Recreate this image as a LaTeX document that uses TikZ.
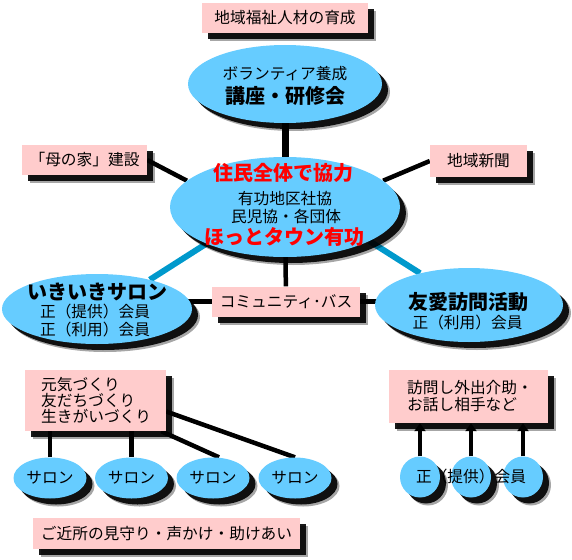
\documentclass[tikz,border=0pt]{standalone}
\usepackage{fontspec}
\setmainfont{Noto Sans CJK JP}
\usetikzlibrary{shapes.geometric,shadows,arrows.meta}
\definecolor{boxpink}{HTML}{FFCCCC}
\definecolor{ellblue}{HTML}{66CCFF}
\definecolor{lineblue}{HTML}{0099CC}
\definecolor{txtred}{HTML}{FF0000}
\pgfdeclarelayer{bg}
\pgfdeclarelayer{fg}
\pgfsetlayers{bg,main,fg}
\tikzset{
  shad/.style={drop shadow={shadow xshift=8pt,shadow yshift=-8pt,opacity=.35,fill=black},
               drop shadow={shadow xshift=6pt,shadow yshift=-6pt,opacity=.9,fill=black}},
  pbox/.style={shad,rectangle,fill=boxpink,inner sep=0pt},
  bub/.style={shad,ellipse,fill=ellblue,inner sep=0pt},
  reg/.style={font=\fontsize{15.7}{18}\selectfont,inner sep=0pt,text height=13.8pt,text depth=1.9pt},
  bld/.style={font=\fontsize{20}{22}\selectfont\bfseries,inner sep=0pt,text height=17.6pt,text depth=2.4pt},
  conn/.style={line width=4.5pt,black},
  thick conn/.style={line width=7pt,black},
  blueline/.style={line width=6pt,lineblue},
  arr/.style={line width=4.5pt,black,-{Triangle[width=11pt,length=8pt]}}
}
\begin{document}
\begin{tikzpicture}[x=1pt,y=-1pt]
\useasboundingbox (0,0) rectangle (572,559);
% top
\node[pbox,reg,minimum width=166pt,minimum height=30pt] (jinzai) at (285,18) {地域福祉人材の育成};
\node[bub,minimum width=194pt,minimum height=78pt] (kouza) at (285,84) {};
\node[reg] (kouzaA) at (285,74) {ボランティア養成};
\node[bld] (kouzaB) at (285,96) {講座・研修会};
% center
\node[bub,minimum width=230pt,minimum height=100pt] (central) at (285,207) {};
\node[bld,text=txtred] (cenA) at (283,173) {住民全体で協力};
\node[reg] (cenB) at (285,199) {有功地区社協};
\node[reg] (cenC) at (286,217) {民児協・各団体};
\node[bld,text=txtred] (cenD) at (284,237) {ほっとタウン有功};
% side boxes
\node[pbox,reg,minimum width=125pt,minimum height=30pt] (haha) at (84.5,160) {「母の家」建設};
\node[pbox,reg,minimum width=97pt,minimum height=32pt] (news) at (478.5,161) {地域新聞};
% left / right ellipses
\node[bub,minimum width=190pt,minimum height=70pt] (ikiiki) at (97,309) {};
\node[bld] (ikiA) at (97,292) {いきいきサロン};
\node[reg] (ikiB) at (95,312) {正（提供）会員};
\node[reg] (ikiC) at (95,330) {正（利用）会員};
\node[bub,minimum width=188pt,minimum height=74pt] (yuai) at (469,305) {};
\node[bld] (yuaiA) at (468,302) {友愛訪問活動};
\node[reg] (yuaiB) at (467.5,323) {正（利用）会員};
\node[pbox,reg,minimum width=148pt,minimum height=30pt] (bus) at (286,301.5) {コミュニティ･バス};
% bottom left
\node[pbox,minimum width=141pt,minimum height=61pt] (genki) at (95.5,400.5) {};
\node[reg,anchor=west] (genkiA) at (41,385) {元気づくり};
\node[reg,anchor=west] (genkiB) at (41,400.5) {友だちづくり};
\node[reg,anchor=west] (genkiC) at (41,417) {生きがいづくり};
\node[bub,reg,minimum width=73pt,minimum height=41pt] (s1) at (50,478) {サロン};
\node[bub,reg,minimum width=73pt,minimum height=41pt] (s2) at (131.5,478) {サロン};
\node[bub,reg,minimum width=73pt,minimum height=41pt] (s3) at (213,478) {サロン};
\node[bub,reg,minimum width=73pt,minimum height=41pt] (s4) at (295,478) {サロン};
\node[pbox,reg,minimum width=267pt,minimum height=31pt] (kinjo) at (166.5,533.5) {ご近所の見守り・声かけ・助けあい};
% bottom right
\node[pbox,minimum width=159pt,minimum height=53pt] (houmon) at (468.5,396.5) {};
\node[reg,anchor=west] (houA) at (407,388) {訪問し外出介助・};
\node[reg,anchor=west] (houB) at (407,405) {お話し相手など};
\node[bub,minimum width=40pt,minimum height=41pt] (c1) at (420,477) {};
\node[bub,minimum width=40pt,minimum height=41pt] (c2) at (471,477) {};
\node[bub,minimum width=40pt,minimum height=41pt] (c3) at (523,477) {};
\node[reg] (cText) at (471,477) {正（提供）会員};
% connectors
\begin{pgfonlayer}{bg}
\draw[thick conn] (kouza) -- (central);
\draw[conn] (haha.east) -- (central.165);
\draw[conn] (news.west) -- (central.15);
\draw[blueline] (central.205) -- (ikiiki.29);
\draw[blueline] (central.338) -- (yuai.147);
\draw[conn] (central) -- (bus);
\draw[conn] (bus.west) -- (bus.west -| ikiiki);
\draw[conn] (bus.east) -- (bus.east -| yuai);
\draw[conn] (s1.north) -- (s1.north |- genki.south);
\draw[conn] (s2.north) -- (s2.north |- genki.south);
\draw[conn] ([xshift=-5pt]genki.south east) -- ([xshift=6pt]s3.north);
\draw[conn] ([yshift=-11pt]genki.east) -- (s4.north);
\end{pgfonlayer}
\begin{pgfonlayer}{fg}
\draw[arr] (c1.north) -- (c1.north |- houmon.south);
\draw[arr] (c2.north) -- (c2.north |- houmon.south);
\draw[arr] (c3.north) -- (c3.north |- houmon.south);
\end{pgfonlayer}
\end{tikzpicture}
\end{document}
